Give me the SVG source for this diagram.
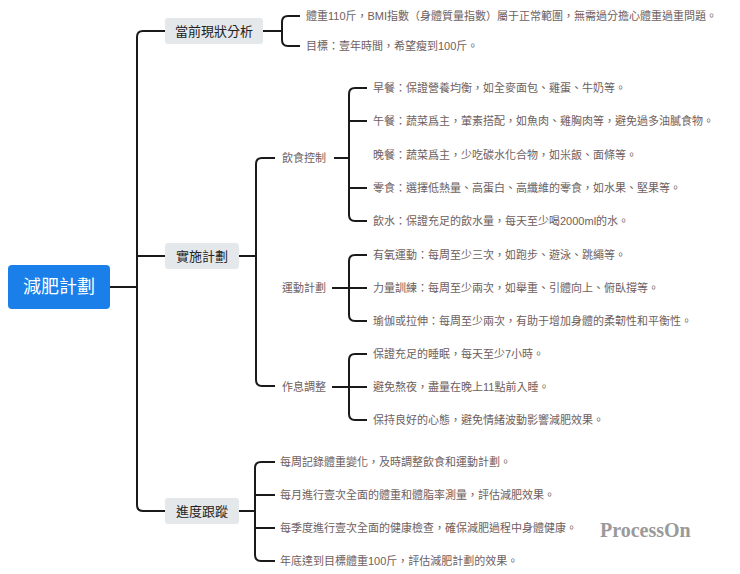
<svg xmlns="http://www.w3.org/2000/svg" width="740" height="574" viewBox="0 0 740 574">
<style>
.c{fill:none;stroke:#1a1a1a;stroke-width:2}
.t{font-family:"Liberation Sans","Noto Sans CJK TC",sans-serif;font-size:11px;fill:#6e5e5e;dominant-baseline:central}
.l1{fill:#e5e8ea}
.l1t{font-family:"Liberation Sans","Noto Sans CJK TC",sans-serif;font-size:13px;fill:#222;dominant-baseline:central;text-anchor:middle}
</style>
<rect width="740" height="574" fill="#fff"/>
<g id="connectors">
<path class="c" d="M110 287H137M165 31H143Q137 31 137 37V505Q137 511 143 511H165M137 256H165"/>
<path class="c" d="M263 31H282M300 16H288Q282 16 282 22V40Q282 46 288 46H300"/>
<path class="c" d="M239 256H256M275 158H262Q256 158 256 164V380Q256 386 262 386H275"/>
<path class="c" d="M239 511H255M275 462H261Q255 462 255 468V555Q255 561 261 561H275M255 495H275M255 528H275"/>
<path class="c" d="M334 158H349M367 88H355Q349 88 349 94V215Q349 221 355 221H367M349 121H367M349 188H367"/>
<path class="c" d="M332 288H367M367 255H355Q349 255 349 261V315Q349 321 355 321H367"/>
<path class="c" d="M332 387H367M367 354H355Q349 354 349 360V414Q349 420 355 420H367"/>
</g>
<g id="root"><rect x="8" y="265" width="102" height="44" rx="4" fill="#1a7fe8"/><text x="59" y="287" font-family="Liberation Sans,'Noto Sans CJK TC',sans-serif" font-size="18" fill="#fff" text-anchor="middle" dominant-baseline="central">減肥計劃</text></g>
<g id="n-status"><rect class="l1" x="165" y="18" width="98" height="26" rx="3"/><text class="l1t" x="214" y="31">當前現狀分析</text></g>
<g id="n-plan"><rect class="l1" x="165" y="243" width="74" height="26" rx="3"/><text class="l1t" x="202" y="256">實施計劃</text></g>
<g id="n-track"><rect class="l1" x="165" y="498" width="74" height="26" rx="3"/><text class="l1t" x="202" y="511">進度跟蹤</text></g>
<g id="status-items">
<text class="t" x="306" y="16">體重110斤，BMI指數（身體質量指數）屬于正常範圍，無需過分擔心體重過重問題。</text>
<text class="t" x="306" y="46">目標：壹年時間，希望瘦到100斤。</text>
</g>
<g id="n-diet"><text class="t" x="282" y="158">飲食控制</text></g>
<g id="n-sport"><text class="t" x="282" y="288">運動計劃</text></g>
<g id="n-rest"><text class="t" x="282" y="387">作息調整</text></g>
<g id="diet-items">
<text class="t" x="373" y="88">早餐：保證營養均衡，如全麥面包、雞蛋、牛奶等。</text>
<text class="t" x="373" y="121">午餐：蔬菜爲主，葷素搭配，如魚肉、雞胸肉等，避免過多油膩食物。</text>
<text class="t" x="373" y="155">晚餐：蔬菜爲主，少吃碳水化合物，如米飯、面條等。</text>
<text class="t" x="373" y="188">零食：選擇低熱量、高蛋白、高纖維的零食，如水果、堅果等。</text>
<text class="t" x="373" y="221">飲水：保證充足的飲水量，每天至少喝2000ml的水。</text>
</g>
<g id="sport-items">
<text class="t" x="373" y="255">有氧運動：每周至少三次，如跑步、遊泳、跳繩等。</text>
<text class="t" x="373" y="288">力量訓練：每周至少兩次，如舉重、引體向上、俯臥撐等。</text>
<text class="t" x="373" y="321">瑜伽或拉伸：每周至少兩次，有助于增加身體的柔韌性和平衡性。</text>
</g>
<g id="rest-items">
<text class="t" x="373" y="354">保證充足的睡眠，每天至少7小時。</text>
<text class="t" x="373" y="387">避免熬夜，盡量在晚上11點前入睡。</text>
<text class="t" x="373" y="420">保持良好的心態，避免情緒波動影響減肥效果。</text>
</g>
<g id="track-items">
<text class="t" x="280" y="462">每周記錄體重變化，及時調整飲食和運動計劃。</text>
<text class="t" x="280" y="495">每月進行壹次全面的體重和體脂率測量，評估減肥效果。</text>
<text class="t" x="280" y="528">每季度進行壹次全面的健康檢查，確保減肥過程中身體健康。</text>
<text class="t" x="280" y="561">年底達到目標體重100斤，評估減肥計劃的效果。</text>
</g>
<text x="600" y="530" font-family="Liberation Serif,serif" font-weight="bold" font-size="20" fill="#9a9a9a" dominant-baseline="central">ProcessOn</text>
</svg>
